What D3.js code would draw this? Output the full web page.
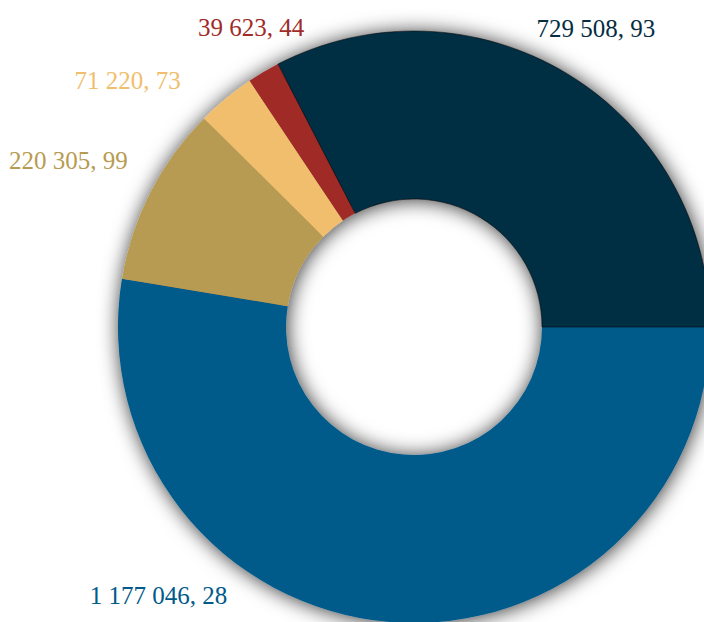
<!DOCTYPE html>
<html>
<head>
<meta charset="utf-8">
<script src="https://cdn.jsdelivr.net/npm/d3@7"></script>
<style>
  html, body { margin: 0; padding: 0; background: #fff; }
  svg { display: block; }
  .slice-label { font-family: "Liberation Serif", "DejaVu Serif", serif; font-size: 25px; }
</style>
</head>
<body>
<div id="chart"></div>
<script>
// --- Data (slice order clockwise from 3 o'clock) ---
const categories = ["blue", "tan", "yellow", "red", "navy"];
const values = [1177046.28, 220305.99, 71220.73, 39623.44, 729508.93];
const labels = ["1 177 046, 28", "220 305, 99", "71 220, 73", "39 623, 44", "729 508, 93"];
const colors = ["#005a8a", "#b89b52", "#f0be6d", "#a02b27", "#062d42"];
// label nudges away from the default radial spot
const labelNudge = [[-227, -81], [-34, -7], [-64, 23], [15, 2], [0, 0]];

const width = 704, height = 622;
const cx = 414, cy = 327;
const outerR = 296, innerR = 128, labelR = 350;

const svg = d3.select("#chart").append("svg")
    .attr("width", width)
    .attr("height", height);

const defs = svg.append("defs");
const filter = defs.append("filter")
    .attr("id", "shadow")
    .attr("x", "-20%").attr("y", "-20%")
    .attr("width", "140%").attr("height", "140%");
filter.append("feDropShadow")
    .attr("dx", 1).attr("dy", 1)
    .attr("stdDeviation", 10)
    .attr("flood-color", "#000")
    .attr("flood-opacity", 0.8);

const pie = d3.pie()
    .sort(null)
    .startAngle(Math.PI / 2)
    .endAngle(Math.PI / 2 + 2 * Math.PI)
    .value(d => d);

const arcs = pie(values);

const arc = d3.arc()
    .innerRadius(innerR)
    .outerRadius(outerR);

const g = svg.append("g")
    .attr("transform", `translate(${cx}, ${cy})`);

g.append("g")
    .attr("filter", "url(#shadow)")
    .selectAll("path")
    .data(arcs)
    .join("path")
    .attr("d", arc)
    .attr("fill", (d, i) => colors[i])
    .attr("stroke", (d, i) => categories[i] === "navy" ? "#000" : "none")
    .attr("stroke-width", 0.5);

// --- Labels ---
g.selectAll(".slice-label")
    .data(arcs)
    .join("text")
    .attr("class", "slice-label")
    .attr("x", (d, i) => {
        const a = (d.startAngle + d.endAngle) / 2;
        return Math.sin(a) * labelR + labelNudge[i][0];
    })
    .attr("y", (d, i) => {
        const a = (d.startAngle + d.endAngle) / 2;
        return -Math.cos(a) * labelR + labelNudge[i][1];
    })
    .attr("dy", "0.35em")
    .attr("text-anchor", "middle")
    .attr("fill", (d, i) => colors[i])
    .text((d, i) => labels[i]);
</script>
</body>
</html>
